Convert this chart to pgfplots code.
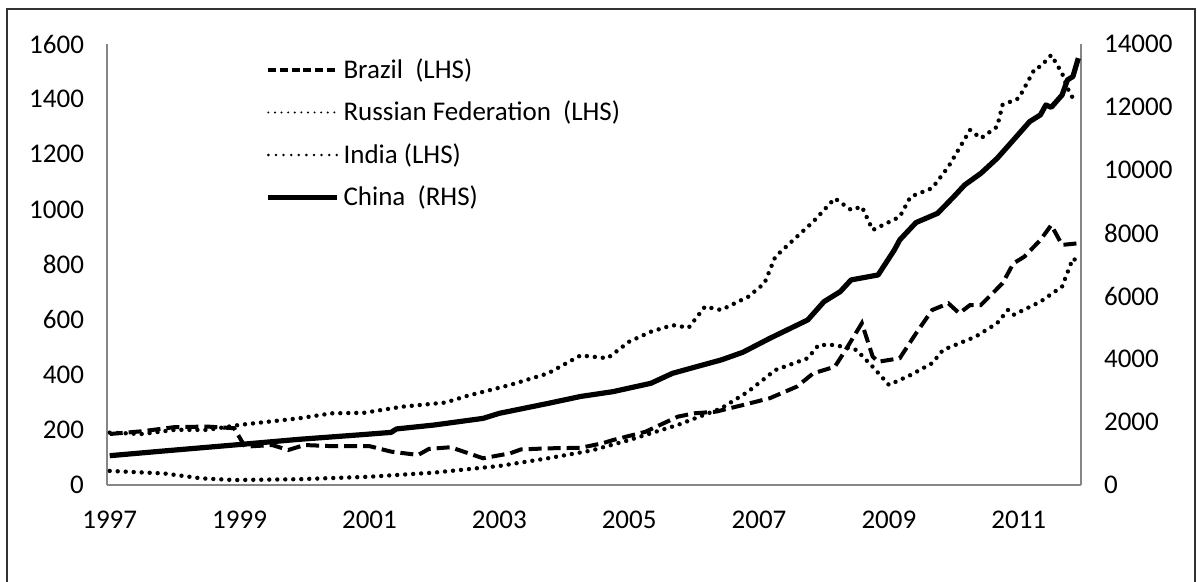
\documentclass[border=0pt]{standalone}
\usepackage{fontspec}
\setmainfont{Carlito}
\usepackage{pgfplots}
\pgfplotsset{compat=1.18}
\usepackage{pgfplotstable}

\pgfplotstableread{
m v
0 185
6 195
12 210
18 212
23 206
25 139
30 145
33 127
36 145
41 141
48 141
52 121
57 109
59 131
63 137
69 97
74 115
76 129
81 133
87 135
91 151
93 163
99 193
105 248
108 260
112 266
117 290
122 315
127 357
130 405
134 429
136 490
139 587
141 466
142 447
146 460
149 550
152 635
155 659
157 623
159 653
161 653
165 732
167 804
169 828
172 889
174 943
176 871
179 877
}\brazil

\pgfplotstableread{
m v
0 51
10 42
17 24
23 18
35 21
48 30
60 45
72 69
81 97
89 125
96 163
105 218
113 278
118 339
123 417
129 460
131 508
134 508
138 490
141 429
144 363
148 399
152 442
154 490
160 538
164 587
166 635
167 617
172 665
176 720
178 822
179 810
}\russia

\pgfplotstableread{
m v
0 190
6 185
12 200
18 200
24 218
35 242
41 260
47 262
54 284
62 299
66 323
74 363
81 405
87 470
92 460
96 520
100 556
104 580
107 571
110 647
113 635
118 683
121 732
123 828
127 901
130 955
134 1040
137 998
139 1010
141 925
146 973
148 1046
152 1077
155 1155
159 1288
161 1258
164 1300
165 1379
168 1403
171 1512
172 1518
174 1560
176 1494
177 1440
178 1403
}\india

\pgfplotstableread{
m w
0 930
10 1080
23 1270
35 1450
46 1590
52 1670
53 1780
60 1905
69 2115
72 2275
81 2590
87 2810
93 2963
100 3228
104 3545
108 3735
113 3970
117 4213
122 4657
129 5240
132 5820
135 6138
137 6510
142 6668
145 7460
146 7780
149 8330
153 8625
156 9155
158 9525
161 9895
164 10370
167 10950
170 11535
172 11750
173 12065
174 11990
176 12380
177 12860
178 12965
179 13550
}\china

\definecolor{axgray}{RGB}{134,134,134}
\definecolor{framec}{RGB}{50,50,50}

\begin{document}
\begin{tikzpicture}[font=\fontsize{13.5}{16}\selectfont]
\useasboundingbox (-53.5pt,-48.5pt) rectangle (545pt,242.5pt);
\draw[framec, line width=0.6pt] (-50pt,-48.5pt) -- (-50pt,238pt) -- (544pt,238pt) -- (544pt,-48.5pt);
\pgfplotsset{
  common/.style={
    scale only axis, width=487pt, height=220.5pt,
    xmin=-0.5, xmax=179.5,
    major tick length=0pt,
    scaled y ticks=false,
    axis line style={axgray, line width=0.7pt},
    tick label style={font=\fontsize{13.5}{16}\selectfont},
  },
  brz/.style={black, line width=2pt, dash pattern=on 6.5pt off 3pt},
  dotst/.style={black, line width=2.2pt, line cap=round, dash pattern=on 0pt off 4pt},
  chn/.style={black, line width=2.6pt, line join=round},
}
\begin{axis}[common,
  axis x line*=bottom, axis y line*=left,
  ymin=0, ymax=1600,
  ytick={0,200,...,1600},
  yticklabels={0,200,400,600,800,1000,1200,1400,1600},
  yticklabel style={anchor=east, xshift=-8pt},
  xtick={0,24,...,168},
  xticklabels={1997,1999,2001,2003,2005,2007,2009,2011},
  xticklabel style={anchor=center, yshift=-17.5pt},
  legend style={draw=none, fill=none, at={(rel axis cs:0.163,0.977)}, anchor=north west,
    font=\fontsize{13.5}{16}\selectfont, row sep=5.9pt, inner sep=0pt,
    nodes={inner sep=2pt}, /tikz/every even column/.append style={xshift=2.5pt}},
  legend cell align=left,
  legend image code/.code={\draw[#1] (0pt,0pt) -- (34.5pt,0pt);},
]
\addplot[brz, forget plot] table[x=m,y=v] {\brazil};
\addplot[dotst, forget plot] table[x=m,y=v] {\russia};
\addplot[dotst, forget plot] table[x=m,y=v] {\india};
\addlegendimage{black, line width=1.6pt, dash pattern=on 4pt off 1.85pt}
\addlegendentry{Brazil~ (LHS)}
\addlegendimage{black, line width=1.1pt, line cap=round, dash pattern=on 0pt off 3.3pt}
\addlegendentry{Russian Federation~ (LHS)}
\addlegendimage{black, line width=1.4pt, line cap=round, dash pattern=on 0pt off 3.8pt}
\addlegendentry{India (LHS)}
\addlegendimage{chn, line width=2.2pt}
\addlegendentry{China~ (RHS)}
\end{axis}
\begin{axis}[common,
  axis x line=none, axis y line*=right,
  ymin=0, ymax=14000,
  ytick={0,2000,...,14000},
  yticklabels={0,2000,4000,6000,8000,10000,12000,14000},
  yticklabel style={anchor=west, xshift=8pt},
]
\addplot[chn] table[x=m,y=w] {\china};
\end{axis}
\end{tikzpicture}
\end{document}
